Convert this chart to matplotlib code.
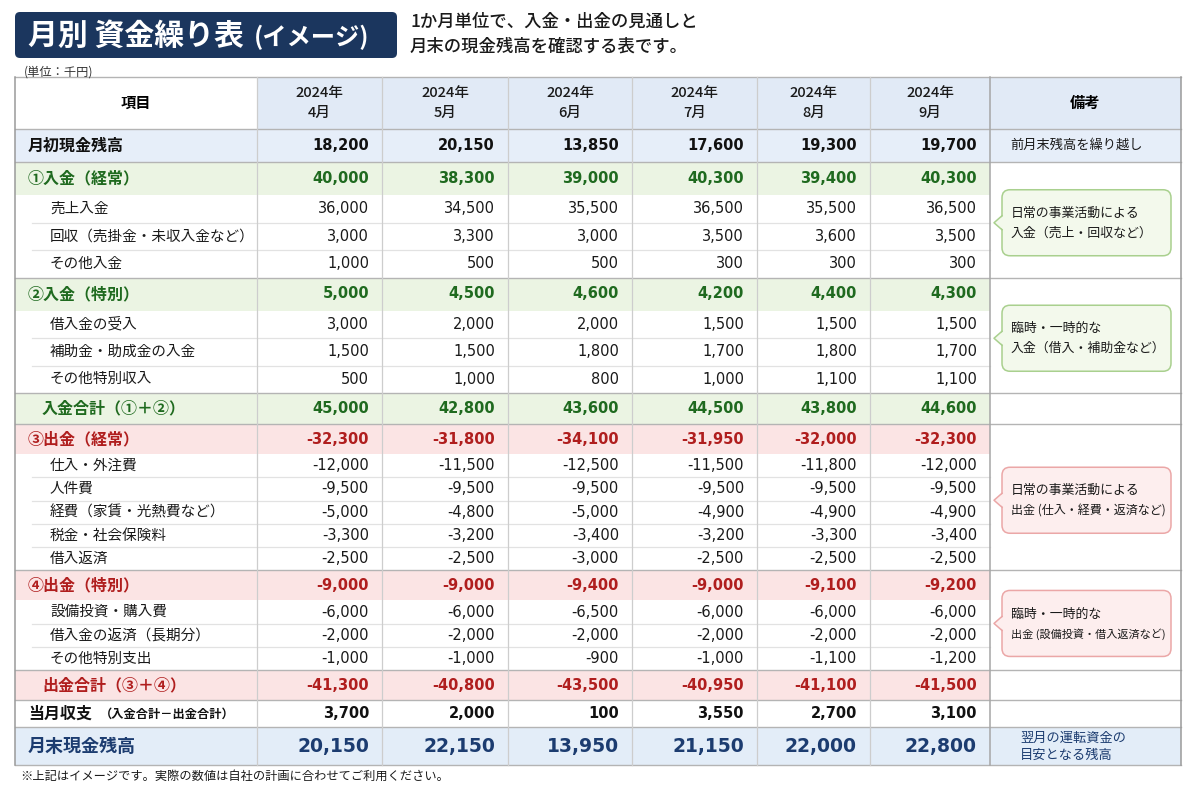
import matplotlib
matplotlib.use('Agg')
import matplotlib.pyplot as plt
from matplotlib.patches import Rectangle, FancyBboxPatch, Polygon

JP = 'Noto Sans CJK JP'
NUM = ['DejaVu Sans', JP]
plt.rcParams['font.family'] = [JP, 'DejaVu Sans']

# ---------------- data ----------------
title_main = '月別 資金繰り表'
title_sub = '(イメージ)'
subtitle = ['1か月単位で、入金・出金の見通しと', '月末の現金残高を確認する表です。']
unit_label = '(単位：千円)'
footnote = '※上記はイメージです。実際の数値は自社の計画に合わせてご利用ください。'

years = ['2024年'] * 6
months = ['4月', '5月', '6月', '7月', '8月', '9月']

opening = [18200, 20150, 13850, 17600, 19300, 19700]
in_regular = [40000, 38300, 39000, 40300, 39400, 40300]
sales_in = [36000, 34500, 35500, 36500, 35500, 36500]
collection = [3000, 3300, 3000, 3500, 3600, 3500]
other_in = [1000, 500, 500, 300, 300, 300]
in_special = [5000, 4500, 4600, 4200, 4400, 4300]
loan_in = [3000, 2000, 2000, 1500, 1500, 1500]
subsidy_in = [1500, 1500, 1800, 1700, 1800, 1700]
other_special_in = [500, 1000, 800, 1000, 1100, 1100]
in_total = [45000, 42800, 43600, 44500, 43800, 44600]
out_regular = [-32300, -31800, -34100, -31950, -32000, -32300]
purchase = [-12000, -11500, -12500, -11500, -11800, -12000]
personnel = [-9500, -9500, -9500, -9500, -9500, -9500]
expenses = [-5000, -4800, -5000, -4900, -4900, -4900]
taxes = [-3300, -3200, -3400, -3200, -3300, -3400]
loan_repay = [-2500, -2500, -3000, -2500, -2500, -2500]
out_special = [-9000, -9000, -9400, -9000, -9100, -9200]
capex = [-6000, -6000, -6500, -6000, -6000, -6000]
longterm_repay = [-2000, -2000, -2000, -2000, -2000, -2000]
other_special_out = [-1000, -1000, -900, -1000, -1100, -1200]
out_total = [-41300, -40800, -43500, -40950, -41100, -41500]
net_flow = [3700, 2000, 100, 3550, 2700, 3100]
closing = [20150, 22150, 13950, 21150, 22000, 22800]

rows = [
    ('opening', '月初現金残高', opening),
    ('sec_in', '①入金（経常）', in_regular),
    ('sub_in', '売上入金', sales_in),
    ('sub_in', '回収（売掛金・未収入金など）', collection),
    ('sub_in', 'その他入金', other_in),
    ('sec_in', '②入金（特別）', in_special),
    ('sub_in', '借入金の受入', loan_in),
    ('sub_in', '補助金・助成金の入金', subsidy_in),
    ('sub_in', 'その他特別収入', other_special_in),
    ('tot_in', '入金合計（①＋②）', in_total),
    ('sec_out', '③出金（経常）', out_regular),
    ('sub_out', '仕入・外注費', purchase),
    ('sub_out', '人件費', personnel),
    ('sub_out', '経費（家賃・光熱費など）', expenses),
    ('sub_out', '税金・社会保険料', taxes),
    ('sub_out', '借入返済', loan_repay),
    ('sec_out', '④出金（特別）', out_special),
    ('sub_out', '設備投資・購入費', capex),
    ('sub_out', '借入金の返済（長期分）', longterm_repay),
    ('sub_out', 'その他特別支出', other_special_out),
    ('tot_out', '出金合計（③＋④）', out_total),
    ('net', '当月収支', net_flow),
    ('closing', '月末現金残高', closing),
]
net_suffix = '（入金合計－出金合計）'

notes_header = '備考'
item_header = '項目'
note_opening = '前月末残高を繰り越し'
note_closing = ['翌月の運転資金の', '目安となる残高']
callouts = [
    ('g', ['日常の事業活動による', '入金（売上・回収など）'], 1, 4),
    ('g', ['臨時・一時的な', '入金（借入・補助金など）'], 5, 8),
    ('r', ['日常の事業活動による', '出金 (仕入・経費・返済など)'], 10, 15),
    ('r', ['臨時・一時的な', '出金 (設備投資・借入返済など)'], 16, 19),
]

# ---------------- layout ----------------
col_edges = [15, 257, 382, 508, 632, 757, 870, 990, 1181]
header_top, header_bot = 77, 129
row_h = {'opening': 33, 'sec_in': 33, 'sub_in': 27.5, 'tot_in': 31,
         'sec_out': 30, 'sub_out': 23.3, 'tot_out': 30, 'net': 27, 'closing': 38}

GREEN = '#1f6a1f'
RED = '#b01e1e'
NAVY = '#1c3c70'
BLUE_FILL = '#e6eef9'
GREEN_FILL = '#ebf4e3'
PINK_FILL = '#fbe4e4'
LINE = '#b4b4b4'
LIGHT = '#e2e2e2'

fig = plt.figure(figsize=(12, 8), dpi=100)
ax = fig.add_axes([0, 0, 1, 1])
ax.set_xlim(0, 1200)
ax.set_ylim(800, 0)
ax.axis('off')
renderer = fig.canvas.get_renderer()


def fit_text(x, y, s, maxw, fs, **kw):
    t = ax.text(x, y, s, fontsize=fs, **kw)
    w = t.get_window_extent(renderer=renderer).width
    if w > maxw:
        t.set_fontsize(fs * maxw / w)
    return t


# title
ax.add_patch(FancyBboxPatch((15, 12), 382, 46, boxstyle='round,pad=0,rounding_size=5',
                            fc='#1b365e', ec='none'))
ax.text(28, 35.5, title_main, color='white', fontsize=21.5, fontweight='bold',
        va='center', ha='left', family=JP)
ax.text(254, 37, title_sub, color='white', fontsize=17.5, fontweight='bold',
        va='center', ha='left', family=JP)
for i, s in enumerate(subtitle):
    ax.text(410, 22 + 25 * i, s, fontsize=12.5, color='#1a1a1a', va='center', ha='left',
            family=JP, fontweight='medium')
ax.text(24, 72, unit_label, fontsize=8.8, color='#333333', va='center', ha='left', family=JP)

# header
x0, x_notes, x_end = col_edges[0], col_edges[-2], col_edges[-1]
ax.add_patch(Rectangle((col_edges[1], header_top), x_end - col_edges[1], header_bot - header_top,
                       fc='#e1eaf6', ec='none'))
ax.text((col_edges[0] + col_edges[1]) / 2, 103, item_header, fontsize=11, fontweight='bold',
        ha='center', va='center')
for i in range(6):
    cx = (col_edges[i + 1] + col_edges[i + 2]) / 2
    ax.text(cx, 93, years[i], fontsize=10.5, ha='center', va='center', color='#1a1a1a',
            fontweight='medium')
    ax.text(cx, 113, months[i], fontsize=10.5, ha='center', va='center', color='#1a1a1a',
            fontweight='medium')
ax.text((x_notes + x_end) / 2, 103, notes_header, fontsize=11, fontweight='bold',
        ha='center', va='center')


def fmt(v):
    return f'{v:,}'


# rows
y = header_bot
row_tops = []
major_lines = [header_top, header_bot]
for idx, (kind, label, vals) in enumerate(rows):
    h = row_h[kind]
    top, bot = y, y + h
    row_tops.append((top, bot))
    cy = (top + bot) / 2
    fill = None
    fill_notes = False
    lab_kw = dict(fontsize=10.5, color='#1a1a1a', fontweight='normal')
    num_kw = dict(fontsize=10.5, color='#1a1a1a', fontweight='normal')
    lx = 50
    if kind == 'opening':
        fill, fill_notes = BLUE_FILL, True
        lab_kw = dict(fontsize=11.5, color='#111111', fontweight='bold')
        num_kw = dict(fontsize=10.5, color='#111111', fontweight='bold')
        lx = 28
    elif kind in ('sec_in', 'tot_in'):
        fill = GREEN_FILL
        lab_kw = dict(fontsize=11.5, color=GREEN, fontweight='bold')
        num_kw = dict(fontsize=10.5, color=GREEN, fontweight='bold')
        lx = 28 if kind == 'sec_in' else 42
    elif kind in ('sec_out', 'tot_out'):
        fill = PINK_FILL
        lab_kw = dict(fontsize=11.5, color=RED, fontweight='bold')
        num_kw = dict(fontsize=10.5, color=RED, fontweight='bold')
        lx = 28 if kind == 'sec_out' else 42
    elif kind == 'net':
        lab_kw = dict(fontsize=11.5, color='#111111', fontweight='bold')
        num_kw = dict(fontsize=10.5, color='#111111', fontweight='bold')
        lx = 28
    elif kind == 'closing':
        fill, fill_notes = '#e3edf8', True
        lab_kw = dict(fontsize=13, color=NAVY, fontweight='bold')
        num_kw = dict(fontsize=13.5, color=NAVY, fontweight='bold')
        lx = 28
    if fill:
        right = x_end if fill_notes else x_notes
        ax.add_patch(Rectangle((x0, top), right - x0, h, fc=fill, ec='none', zorder=0.5))
    ax.text(lx, cy, label, ha='left', va='center', family=JP, **lab_kw)
    if kind == 'net':
        ax.text(100, cy + 0.5, net_suffix, ha='left', va='center', family=JP,
                fontsize=8.8, fontweight='bold', color='#111111')
    for j, v in enumerate(vals):
        ax.text(col_edges[j + 2] - 13, cy, fmt(v), ha='right', va='center', family=NUM, **num_kw)
    # separator lines
    if kind.startswith('sub'):
        nxt = rows[idx + 1][0] if idx + 1 < len(rows) else ''
        if nxt.startswith('sub'):
            ax.plot([32, x_notes], [bot, bot], color=LIGHT, lw=0.9, zorder=1)
        else:
            major_lines.append(bot)
    elif kind in ('opening', 'tot_in', 'tot_out', 'net', 'closing'):
        major_lines.append(bot)
    y = bot

table_bot = y
for yy in major_lines:
    ax.plot([x0, x_end], [yy, yy], color=LINE, lw=1, zorder=2)

# vertical lines
for k, xx in enumerate(col_edges):
    if k in (0, len(col_edges) - 1):
        ax.plot([xx, xx], [header_top, table_bot], color='#9a9a9a', lw=1.1, zorder=3)
    elif k == len(col_edges) - 2:
        ax.plot([xx, xx], [header_top, table_bot], color='#a6a6a6', lw=1.1, zorder=3)
    else:
        ax.plot([xx, xx], [header_top, table_bot], color='#cdcdcd', lw=0.9, zorder=3)

# notes
o_top, o_bot = row_tops[0]
ax.text(1010, (o_top + o_bot) / 2, note_opening, fontsize=9.5, ha='left', va='center',
        color='#1a1a1a')
c_top, c_bot = row_tops[-1]
ax.text(1020, c_top + 11, note_closing[0], fontsize=9.5, ha='left', va='center', color=NAVY)
ax.text(1020, c_top + 28, note_closing[1], fontsize=9.5, ha='left', va='center', color=NAVY)

styles = {'g': ('#f3f9ec', '#a9d08e'), 'r': ('#fdeeee', '#eba7a7')}
for kind, lines, r0, r1 in callouts:
    fc, ec = styles[kind]
    top = row_tops[r0][0]
    bot = row_tops[r1][1]
    mid = (top + bot) / 2 + 3
    bx0, bx1 = 1002, 1171
    bh = 66
    by0 = mid - bh / 2
    ax.add_patch(FancyBboxPatch((bx0, by0), bx1 - bx0, bh,
                                boxstyle='round,pad=0,rounding_size=8',
                                fc=fc, ec=ec, lw=1.1, zorder=4))
    ax.add_patch(Polygon([(bx0 + 1.5, mid - 7), (bx0 - 8, mid), (bx0 + 1.5, mid + 7)],
                         closed=True, fc=fc, ec='none', zorder=5))
    ax.plot([bx0, bx0 - 8, bx0], [mid - 7, mid, mid + 7], color=ec, lw=1.1, zorder=6)
    fit_text(bx0 + 9, mid - 9.5, lines[0], bx1 - bx0 - 14, 9.3, ha='left', va='center',
             color='#1a1a1a', zorder=7)
    fit_text(bx0 + 9, mid + 10.5, lines[1], bx1 - bx0 - 14, 9.3, ha='left', va='center',
             color='#1a1a1a', zorder=7)

ax.text(20, 776, footnote, fontsize=8.8, ha='left', va='center', color='#1a1a1a')

fig.savefig('out.png', dpi=100, facecolor='white')
